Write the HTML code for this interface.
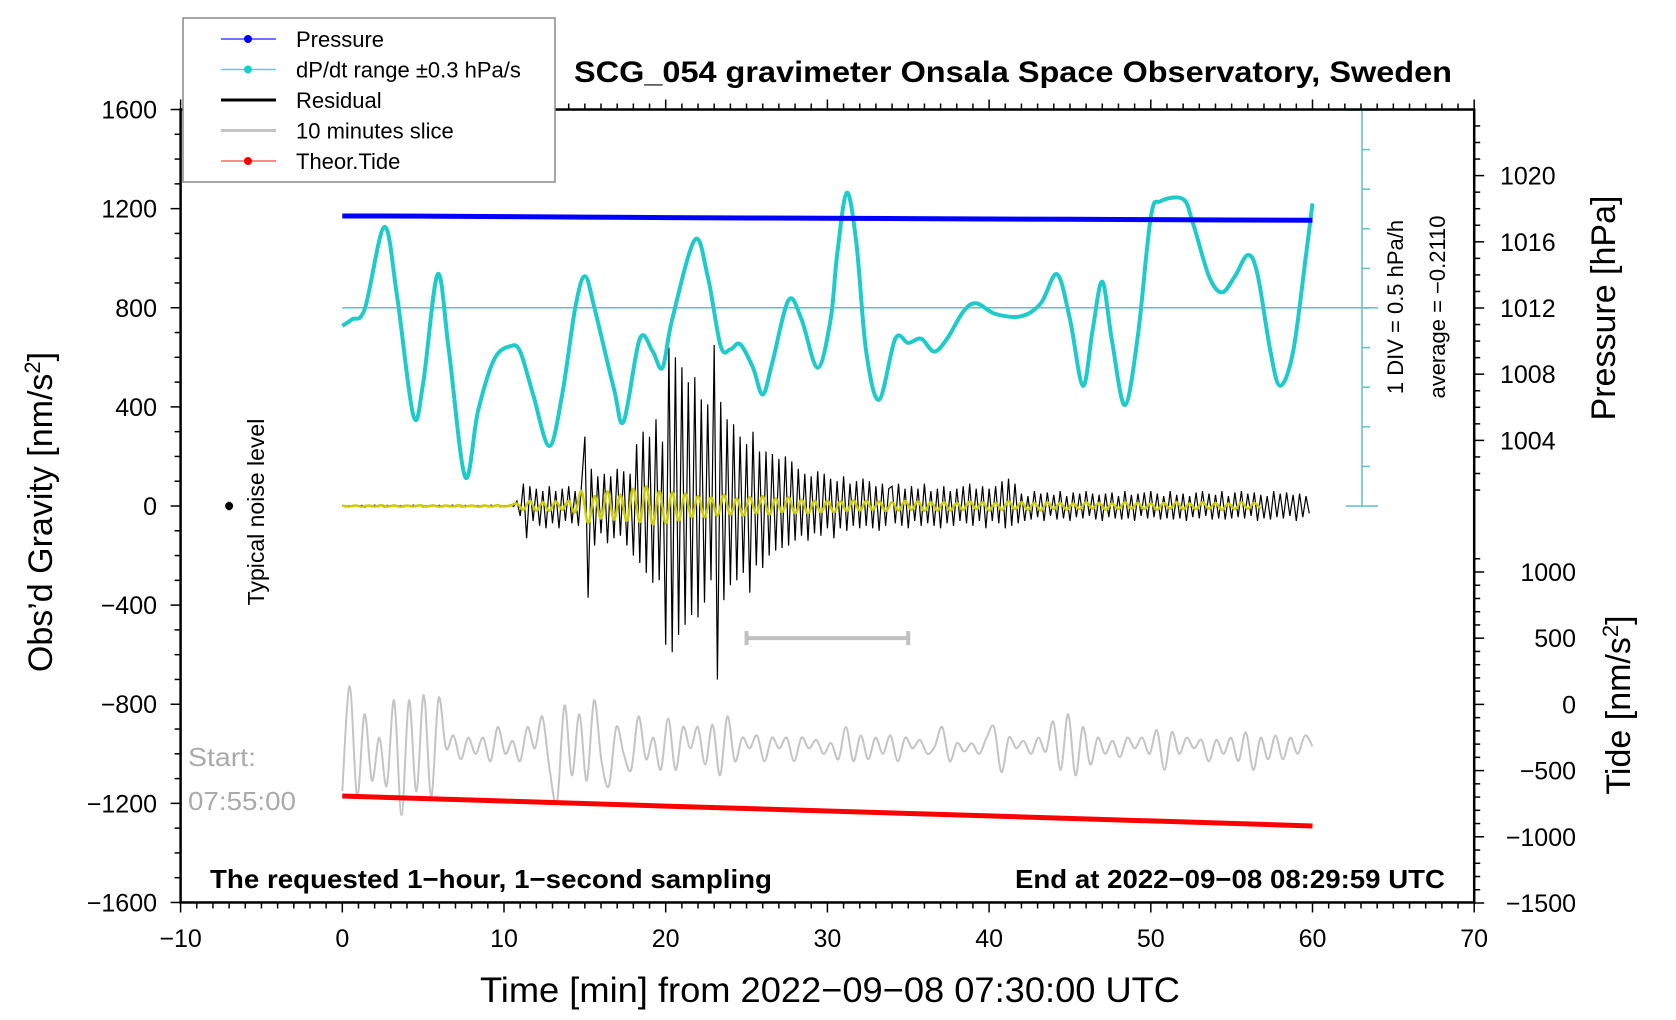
<!DOCTYPE html>
<html><head><meta charset="utf-8">
<style>
html,body{margin:0;padding:0;background:#fff;}
svg{display:block;font-family:"Liberation Sans",sans-serif;}
</style></head>
<body>
<svg id="chart" width="1676" height="1020" viewBox="0 0 1676 1020">
<g id="marks"></g>
<g id="axes"></g>
</svg>
<script>
// ===== data =====
const cyanT = [0,0.6,1.4,2.6,3.4,4.4,5.0,5.9,6.6,7.6,8.4,9.4,10.4,11.0,11.8,12.8,13.6,14.4,15.0,15.6,16.8,17.4,18.4,19.2,19.8,20.4,21.8,22.6,23.4,24.0,24.6,25.4,26.0,26.6,27.6,28.4,29.4,30.2,30.6,31.2,31.8,32.4,33.2,34.2,35.0,35.8,36.6,37.4,38.4,39.2,40.4,42.0,43.2,44.2,45.0,45.8,46.4,47.0,47.6,48.4,49.2,50.0,50.6,52.0,52.6,53.6,54.4,55.2,56.0,56.6,57.4,58.0,58.8,59.6,60.0];
const cyanG = [727,753,797,1126,840,364,494,935,623,117,385,593,645,623,450,242,450,797,927,797,472,342,675,623,558,753,1074,927,645,632,653,558,450,580,831,753,558,753,1013,1264,1056,623,429,675,658,675,623,675,784,818,775,766,818,935,753,485,710,905,667,407,688,1165,1230,1238,1143,927,862,927,1013,935,623,485,623,1013,1221];
const pressT = [0,5,10,15,20,25,30,35,40,45,50,55,60];
const pressHPa = [1017.56,1017.55,1017.52,1017.49,1017.46,1017.44,1017.42,1017.40,1017.38,1017.36,1017.34,1017.32,1017.30];
const tideT = [0,10,20,30,40,50,60];
const tideV = [-692,-730,-768,-805,-842,-880,-918];
const resStep = 0.2;
const residual = [
3,-4,2,-3,4,-2,3,-5,2,-3,4,-3,2,-4,3,-2,5,-3,2,-4,3,-3,4,-2,3,-4,2,-3,5,-2,3,-4,2,-3,4,-3,2,-4,3,-2,4,-3,2,-4,3,-3,4,-2,3,-4,2,-3,5,-2,
20,-40,90,-130,80,-60,
70,-80,60,-90,80,-70,60,-90,70,-60,80,-70,60,-80,90,
280,-370,150,-160,120,
-110,130,-150,120,-130,150,-120,140,-160,130,
-200,250,-230,300,-270,280,-310,350,-300,260,
-560,640,-590,600,-520,560,-480,500,-440,520,
-450,430,-390,410,-300,650,-700,420,-380,350,
-320,330,-300,280,-270,250,-350,300,-240,220,
-250,220,-200,210,-180,190,-170,200,-160,180,
-140,150,-120,130,-140,120,-110,140,-120,130,
-90,110,-130,100,-90,120,-100,90,-80,100,-90,110,-80,100,-90,80,-100,90,-80,70,
80,-70,90,-80,70,-90,80,-60,70,-80,90,-70,60,-80,70,-90,80,-70,60,-80,70,-60,80,-70,90,-80,70,-60,80,-90,70,-60,80,-70,100,-90,110,-80,90,-70,
50,-60,40,-55,60,-45,50,-60,55,-40,45,-55,60,-50,40,-60,55,-45,50,-50,60,-40,50,-55,45,-60,50,-45,55,-50,
40,-55,60,-50,45,-60,50,-40,55,-50,60,-45,50,-55,40,-50,60,-55,45,-50,50,-60,40,-45,55,-50,60,-40,50,-55,
45,-50,60,-55,40,-50,55,-45,60,-50,50,-40,55,-60,45,-50,40,-55,60,-45,50,-50,55,-40,45,-60,50,-45,40,-30
];
const yelStep = 0.4;
const yellow = [
2,-2,2,-3,2,-2,3,-2,2,-3,2,-2,3,-2,2,-3,2,-2,3,-2,2,-3,2,-2,3,-2,2,
10,-15,20,-18,15,-20,18,-15,20,-25,
60,-70,40,-50,60,-55,45,-60,70,-65,80,-75,60,-70,55,-60,50,-45,
40,-45,35,-40,45,-35,30,-40,35,-30,40,-35,30,-25,35,-30,25,-30,20,-25,
20,-25,18,-20,22,-18,20,-15,18,-20,15,-18,20,-15,18,-20,15,-18,
15,-18,12,-15,18,-12,15,-18,12,-15,18,-12,15,-15,12,-18,15,-12,
12,-15,10,-12,15,-10,12,-15,10,-12,15,-10,12,-12,10,-15,12,-10,15,-12,10,-12,15,-10,12,-15,10,-12,15,-10,12,-10
];
const sliceVals = [-1150,-727,-1173,-840,-1108,-935,-1130,-784,-1247,-784,-1152,-762,-1173,-775,-978,-926,-1022,-935,-1000,-935,-1030,-892,-1000,-948,-1030,-892,-978,-849,-1065,-1195,-805,-1087,-840,-1108,-784,-1030,-1130,-892,-1000,-1065,-849,-1022,-935,-1065,-858,-1065,-892,-978,-892,-1043,-883,-1087,-849,-1030,-935,-978,-926,-1030,-935,-978,-935,-1030,-935,-978,-944,-1000,-957,-1022,-892,-1030,-926,-1022,-935,-1000,-926,-1030,-935,-978,-944,-1000,-970,-892,-1030,-957,-991,-957,-1000,-935,-892,-1074,-935,-978,-948,-1000,-935,-991,-870,-1065,-840,-1087,-892,-1043,-935,-1000,-948,-1013,-935,-978,-935,-1000,-905,-1065,-913,-1000,-935,-978,-944,-1030,-944,-1000,-935,-1030,-913,-1065,-935,-1022,-926,-1022,-935,-1000,-926,-970];
const xTicks = [-10,0,10,20,30,40,50,60,70];
const gTicks = [1600,1200,800,400,0,-400,-800,-1200,-1600];
const pTicks = [1020,1016,1012,1008,1004];
const tTicks = [1000,500,0,-500,-1000,-1500];

// ===== scales =====
const xs = t => 180.6 + (t + 10) * 16.17;
const yg = g => 506 - g * 0.2478;
const yp = p => 308 - (p - 1012) * 16.55;
const yt = v => 704.4 - v * 0.1324;
const NS = 'http://www.w3.org/2000/svg';
const marks = document.getElementById('marks');
const axes = document.getElementById('axes');
function mk(tag, attrs, parent){ const e=document.createElementNS(NS,tag); for(const k in attrs) e.setAttribute(k,attrs[k]); parent.appendChild(e); return e; }
function txt(s, attrs, parent){ const e=mk('text',attrs,parent); e.textContent=s; return e; }
function smooth(P){
  let d='M'+P[0][0].toFixed(1)+','+P[0][1].toFixed(1);
  for(let i=0;i<P.length-1;i++){
    const p0=P[Math.max(0,i-1)],p1=P[i],p2=P[i+1],p3=P[Math.min(P.length-1,i+2)];
    const c1x=p1[0]+(p2[0]-p0[0])/6,c1y=p1[1]+(p2[1]-p0[1])/6;
    const c2x=p2[0]-(p3[0]-p1[0])/6,c2y=p2[1]-(p3[1]-p1[1])/6;
    d+='C'+c1x.toFixed(1)+','+c1y.toFixed(1)+' '+c2x.toFixed(1)+','+c2y.toFixed(1)+' '+p2[0].toFixed(1)+','+p2[1].toFixed(1);
  }
  return d;
}

let e;
e = mk('line',{x1:xs(0),y1:yg(800),x2:1378,y2:yg(800),stroke:'#5cc4c0','stroke-width':1.5},marks);


e = mk('g',{stroke:'#5cc4c0','stroke-width':1.5},marks);


mk('line',{x1:1362,y1:110,x2:1362,y2:506},e);
mk('line',{x1:1346,y1:110,x2:1378,y2:110},e);
mk('line',{x1:1346,y1:506,x2:1378,y2:506},e);
for(let i=1;i<10;i++){ mk('line',{x1:1362,y1:110+i*39.6,x2:1370,y2:110+i*39.6},e); }

let P = sliceVals.map((v,i)=>[xs(i*60/(sliceVals.length-1)), yg(v)]);
e = mk('path',{d:smooth(P),fill:'none',stroke:'#c4c4c4','stroke-width':2},marks);



let pts = tideT.map((t,i)=>xs(t)+','+yt(tideV[i])).join(' ');
e = mk('polyline',{points:pts,fill:'none',stroke:'#ff0000','stroke-width':5},marks);



pts = residual.map((v,i)=>xs(Math.min(60,i*resStep)).toFixed(1)+','+yg(v).toFixed(1)).join(' ');
e = mk('polyline',{points:pts,fill:'none',stroke:'#000','stroke-width':1.2},marks);



P = yellow.map((v,i)=>[xs(Math.min(60,i*yelStep)), yg(v)]);
e = mk('path',{d:smooth(P),fill:'none',stroke:'#cccc00','stroke-width':2.5},marks);



P = cyanT.map((t,i)=>[xs(t), yg(cyanG[i])]);
e = mk('path',{d:smooth(P),fill:'none',stroke:'#1ecbcb','stroke-width':4,'stroke-linejoin':'round'},marks);



pts = pressT.map((t,i)=>xs(t).toFixed(1)+','+yp(pressHPa[i]).toFixed(1)).join(' ');
e = mk('polyline',{points:pts,fill:'none',stroke:'#0000ff','stroke-width':5},marks);



e = mk('g',{stroke:'#c0c0c0','stroke-width':4},marks);


mk('line',{x1:xs(25),y1:yg(-533),x2:xs(35),y2:yg(-533)},e);
mk('line',{x1:xs(25),y1:yg(-533)-7,x2:xs(25),y2:yg(-533)+7},e);
mk('line',{x1:xs(35),y1:yg(-533)-7,x2:xs(35),y2:yg(-533)+7},e);

e = mk('g',{},marks);


mk('line',{x1:xs(-7),y1:yg(20),x2:xs(-7),y2:yg(-20),stroke:'#bbb','stroke-width':3},e);
mk('circle',{cx:xs(-7),cy:yg(0),r:4,fill:'#000'},e);

const frame = mk('rect',{x:xs(-10),y:yg(1600),width:xs(70)-xs(-10),height:yg(-1600)-yg(1600),fill:'none',stroke:'#000','stroke-width':2.5},axes);


const tk = mk('g',{stroke:'#000','stroke-width':1.5},axes);


for(let t=-10;t<=70;t++){ const L=(t%10===0)?10:6; mk('line',{x1:xs(t),y1:yg(-1600),x2:xs(t),y2:yg(-1600)+L},tk); mk('line',{x1:xs(t),y1:yg(1600),x2:xs(t),y2:yg(1600)-L},tk); }
for(let g=-1600;g<=1600;g+=100){ const L=(g%400===0)?10:6; mk('line',{x1:xs(-10),y1:yg(g),x2:xs(-10)-L,y2:yg(g)},tk); }
for(let p=1001;p<=1023;p++){ const y=yp(p); if(y<yg(1600)||y>yg(0)+12) continue; const L=(p%4===0)?10:6; mk('line',{x1:xs(70),y1:y,x2:xs(70)+L,y2:y},tk); }
for(let v=-1500;v<=1100;v+=100){ const y=yt(v); if(y<yg(0)+15) continue; const L=(v%500===0)?10:6; mk('line',{x1:xs(70),y1:y,x2:xs(70)+L,y2:y},tk); }

const lab = mk('g',{'font-size':25,fill:'#000'},axes);


xTicks.forEach(t=>{ const s=String(t).replace('-','\u2212'); const el=txt(s,{x:xs(t),y:947,'text-anchor':'middle'},lab);   });
gTicks.forEach(g=>{ const s=String(g).replace('-','\u2212'); const el=txt(s,{x:157,y:yg(g)+9,'text-anchor':'end'},lab);   });
pTicks.forEach(p=>{ const el=txt(String(p),{x:1500,y:yp(p)+9,'text-anchor':'start'},lab);   });
tTicks.forEach(v=>{ const s=String(v).replace('-','\u2212'); const el=txt(s,{x:1576,y:yt(v)+9,'text-anchor':'end'},lab);   });
</script>

<script>
(function(){
const NS='http://www.w3.org/2000/svg';
const svg=document.getElementById('chart');
function t(s,a,name){const e=document.createElementNS(NS,'text');for(const k in a)e.setAttribute(k,a[k]);e.innerHTML=s;svg.appendChild(e);return e;}
t('SCG_054 gravimeter Onsala Space Observatory, Sweden',{x:1013,y:82,'text-anchor':'middle','font-size':30,'font-weight':'bold',textLength:878,lengthAdjust:'spacingAndGlyphs'},'chart-title');
t('Time [min] from 2022\u221209\u221208 07:30:00 UTC',{x:830,y:1002,'text-anchor':'middle','font-size':35,textLength:700,lengthAdjust:'spacingAndGlyphs'},'x-axis-title');
t('Obs\u2019d Gravity [nm/s<tspan dy="-12" font-size="22">2</tspan><tspan dy="12">]</tspan>',{x:0,y:0,'text-anchor':'middle','font-size':34,transform:'translate(52,512) rotate(-90)'},'y-axis-title');
t('Pressure [hPa]',{x:0,y:0,'text-anchor':'middle','font-size':34,transform:'translate(1615,308) rotate(-90)'},'pressure-axis-title');
t('Tide [nm/s<tspan dy="-12" font-size="22">2</tspan><tspan dy="12">]</tspan>',{x:0,y:0,'text-anchor':'middle','font-size':34,transform:'translate(1630,705) rotate(-90)'},'tide-axis-title');
t('1 DIV = 0.5 hPa/h',{x:0,y:0,'text-anchor':'middle','font-size':22,transform:'translate(1403,307) rotate(-90)'},'dpdt-scale-label');
t('average = \u22120.2110',{x:0,y:0,'text-anchor':'middle','font-size':22,transform:'translate(1445,307) rotate(-90)'},'dpdt-average-label');
t('Typical noise level',{x:0,y:0,'text-anchor':'middle','font-size':23,transform:'translate(264,512) rotate(-90)'},'noise-level-label');
t('Start:',{x:188,y:766,'font-size':26,fill:'#aaaaaa',textLength:68,lengthAdjust:'spacingAndGlyphs'},'slice-start-label');
t('07:55:00',{x:188,y:810,'font-size':26,fill:'#aaaaaa',textLength:108,lengthAdjust:'spacingAndGlyphs'},'slice-start-time');
t('The requested 1\u2212hour, 1\u2212second sampling',{x:210,y:888,'font-size':26,'font-weight':'bold',textLength:562,lengthAdjust:'spacingAndGlyphs'},'sampling-note');
t('End at 2022\u221209\u221208 08:29:59 UTC',{x:1445,y:888,'text-anchor':'end','font-size':26,'font-weight':'bold',textLength:430,lengthAdjust:'spacingAndGlyphs'},'end-time-note');
const g=document.createElementNS(NS,'g');svg.appendChild(g);
const r=document.createElementNS(NS,'rect');r.setAttribute('x',183);r.setAttribute('y',18);r.setAttribute('width',372);r.setAttribute('height',164);r.setAttribute('fill','#fff');r.setAttribute('stroke','#888');r.setAttribute('stroke-width',1.5);g.appendChild(r);
const items=[['Pressure','#4444ff',1.5,'#0000ff'],['dP/dt range \u00b10.3 hPa/s','#5cd0d0',1.5,'#1ecbcb'],['Residual','#000',3,null],['10 minutes slice','#c4c4c4',3,null],['Theor.Tide','#ff6666',1.5,'#ff0000']];
items.forEach((it,i)=>{const y=39+i*30.5;
 const eg=document.createElementNS(NS,'g');g.appendChild(eg);
 const l=document.createElementNS(NS,'line');l.setAttribute('x1',221);l.setAttribute('x2',276);l.setAttribute('y1',y);l.setAttribute('y2',y);l.setAttribute('stroke',it[1]);l.setAttribute('stroke-width',it[2]);eg.appendChild(l);
 if(it[3]){const c=document.createElementNS(NS,'circle');c.setAttribute('cx',248);c.setAttribute('cy',y);c.setAttribute('r',4);c.setAttribute('fill',it[3]);eg.appendChild(c);}
 const tx=document.createElementNS(NS,'text');tx.setAttribute('x',296);tx.setAttribute('y',y+8);tx.setAttribute('font-size',22);tx.textContent=it[0];eg.appendChild(tx);});
})();
</script>
</body></html>
